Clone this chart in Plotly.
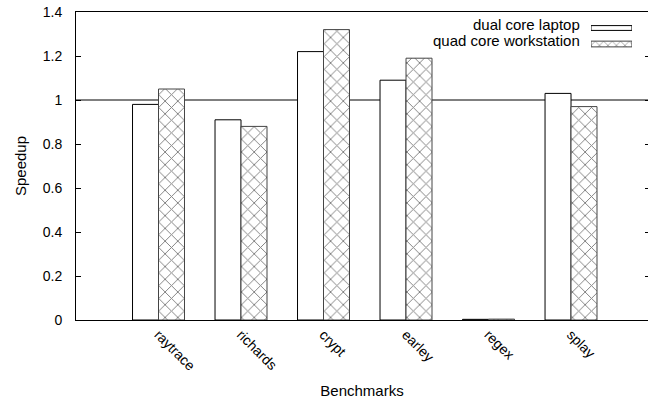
import plotly.graph_objects as go

# Benchmark speedups for the two machines
benchmarks = ["raytrace", "richards", "crypt", "earley", "regex", "splay"]
laptop = [0.98, 0.91, 1.22, 1.09, 0.003, 1.03]
workstation = [1.05, 0.88, 1.32, 1.19, 0.004, 0.97]
series_names = ["dual core laptop", "quad core workstation"]
y_ticks = [0, 0.2, 0.4, 0.6, 0.8, 1.0, 1.2, 1.4]

FONT = "Liberation Sans, Arial, Helvetica, sans-serif"
hatch = dict(shape="x", size=9, solidity=0.2, fgcolor="black", bgcolor="white")

fig = go.Figure()
fig.add_trace(go.Bar(
    x=benchmarks, y=laptop, name=series_names[0],
    marker=dict(color="white", line=dict(color="black", width=1)),
    showlegend=False,
))
fig.add_trace(go.Bar(
    x=benchmarks, y=workstation, name=series_names[1],
    marker=dict(color="white", pattern=hatch, line=dict(color="#444", width=1)),
    showlegend=False,
))

# Key samples drawn on a small inset axis, text to the left of each sample
fig.add_trace(go.Bar(
    x=[1], y=[1], base=0, orientation="h", width=0.3,
    marker=dict(color="white", line=dict(color="black", width=1)),
    xaxis="x2", yaxis="y3", showlegend=False, hoverinfo="skip",
))
fig.add_trace(go.Bar(
    x=[1], y=[0], base=0, orientation="h", width=0.36,
    marker=dict(color="white", pattern=dict(hatch, size=6),
                line=dict(color="#444", width=1)),
    xaxis="x2", yaxis="y3", showlegend=False, hoverinfo="skip",
))

fig.update_layout(
    width=648, height=402,
    margin=dict(l=76, r=0, t=12, b=82),
    paper_bgcolor="white", plot_bgcolor="white",
    font=dict(family=FONT, size=14, color="black"),
    barmode="group", bargap=0.37, bargroupgap=0,
    showlegend=False,
    xaxis=dict(
        type="category", range=[-1, 5.933],
        showline=True, linecolor="black", linewidth=1, mirror=True,
        ticks="", tickangle=45, showgrid=False, zeroline=False,
        tickfont=dict(size=14),
        title=dict(text="Benchmarks", standoff=12, font=dict(size=15)),
    ),
    yaxis=dict(
        range=[0, 1.4], tickvals=y_ticks,
        showline=True, linecolor="black", linewidth=1,
        ticks="inside", ticklen=5, tickcolor="black",
        ticklabelstandoff=10, tickfont=dict(size=14),
        showgrid=False, zeroline=False,
        title=dict(text="Speedup", standoff=12, font=dict(size=15)),
    ),
    yaxis2=dict(
        range=[0, 1.4], tickvals=y_ticks, overlaying="y", side="right",
        showline=False, ticks="inside", ticklen=3, tickcolor="black",
        showticklabels=False, showgrid=False, zeroline=False,
    ),
    xaxis2=dict(domain=[0.9003, 0.972], range=[0, 1], anchor="y3",
                visible=False, fixedrange=True),
    yaxis3=dict(domain=[0.8701, 0.974], range=[-0.5, 1.5], anchor="x2",
                visible=False, fixedrange=True),
    shapes=[
        dict(type="line", xref="paper", x0=0, x1=1, yref="y", y0=1, y1=1,
             line=dict(color="black", width=1), layer="below"),
    ],
    annotations=[
        dict(text=series_names[0], xref="paper", yref="paper",
             x=0.8846, y=0.961, xanchor="right", yanchor="middle",
             showarrow=False, font=dict(size=15)),
        dict(text=series_names[1], xref="paper", yref="paper",
             x=0.8846, y=0.909, xanchor="right", yanchor="middle",
             showarrow=False, font=dict(size=15)),
    ],
)
# a dummy trace so the right-hand tick axis is rendered
fig.add_trace(go.Scatter(x=[benchmarks[0]], y=[None], yaxis="y2",
                         showlegend=False, hoverinfo="skip"))

fig.write_html("out.html")
